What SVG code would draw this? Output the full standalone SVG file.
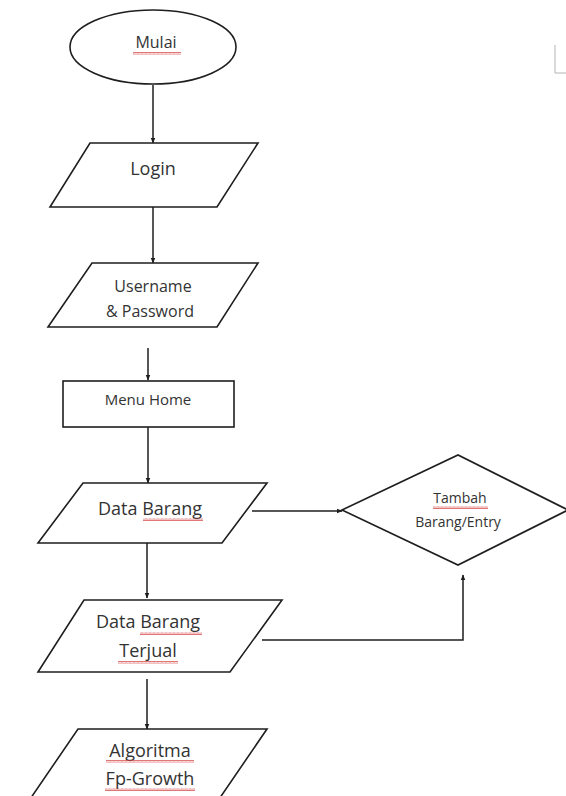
<svg xmlns="http://www.w3.org/2000/svg" width="566" height="796" viewBox="0 0 566 796">
<defs>
<style>
.shape{fill:#fff;stroke:#1e1e1e;stroke-width:1.6}
.conn{fill:none;stroke:#1e1e1e;stroke-width:1.5}
.t{font-family:"Open Sans","Liberation Sans",sans-serif;fill:#333;text-anchor:middle}
.sq{fill:url(#squig)}
</style>
<marker id="arr" viewBox="0 0 10 10" refX="9" refY="5" markerWidth="6" markerHeight="6" orient="auto" markerUnits="userSpaceOnUse">
<path d="M0,1 L10,5 L0,9 z" fill="#1e1e1e"/>
</marker>
<pattern id="squig" x="0" y="0" width="4" height="3" patternUnits="userSpaceOnUse">
<path d="M0,2.5 L1,0.5 L2,2.5 L3,0.5 L4,2.5" fill="none" stroke="#d23c3c" stroke-width="0.7"/>
</pattern>
</defs>
<rect width="566" height="796" fill="#fff"/>
<polyline points="555,45 555,73 566,73" fill="none" stroke="#b4b4b4" stroke-width="1"/>
<g id="connectors">
<line class="conn" x1="153" y1="85" x2="153" y2="143" marker-end="url(#arr)"/>
<line class="conn" x1="153" y1="207" x2="153" y2="263" marker-end="url(#arr)"/>
<line class="conn" x1="148" y1="348" x2="148" y2="380" marker-end="url(#arr)"/>
<line class="conn" x1="148" y1="427" x2="148" y2="483" marker-end="url(#arr)"/>
<line class="conn" x1="252" y1="511" x2="342" y2="511" marker-end="url(#arr)"/>
<line class="conn" x1="147" y1="543" x2="147" y2="598" marker-end="url(#arr)"/>
<polyline class="conn" points="262,640 463,640 463,575" marker-end="url(#arr)"/>
<line class="conn" x1="147" y1="679" x2="147" y2="729" marker-end="url(#arr)"/>
</g>
<g id="mulai">
<ellipse class="shape" cx="153" cy="47" rx="83" ry="37"/>
<text class="t" x="156" y="48" font-size="16">Mulai</text>
<rect class="sq" x="133" y="52" width="48" height="3"/>
</g>
<g id="login">
<polygon class="shape" points="90,143 258,143 217,207 50,207"/>
<text class="t" x="153" y="175" font-size="18">Login</text>
</g>
<g id="username">
<polygon class="shape" points="92,263 258,263 217,327 48,327"/>
<text class="t" x="153" y="292" font-size="16">Username</text>
<text class="t" x="150" y="317" font-size="16">&amp; Password</text>
</g>
<g id="menu-home">
<rect class="shape" x="63" y="381" width="171" height="46"/>
<text class="t" x="148" y="405" font-size="15">Menu Home</text>
</g>
<g id="data-barang">
<polygon class="shape" points="83,483 267,483 222,543 38,543"/>
<text class="t" x="150" y="515" font-size="18">Data Barang</text>
<rect class="sq" x="143" y="518" width="60" height="3"/>
</g>
<g id="tambah-barang">
<polygon class="shape" points="342,510 458,455 568,510 458,565"/>
<text class="t" x="460" y="503" font-size="14">Tambah</text>
<rect class="sq" x="433" y="506" width="55" height="3"/>
<text class="t" x="458" y="527" font-size="14">Barang/Entry</text>
</g>
<g id="data-barang-terjual">
<polygon class="shape" points="84,600 282,600 230,672 38,672"/>
<text class="t" x="148" y="628" font-size="18">Data Barang</text>
<rect class="sq" x="140" y="632" width="62" height="3"/>
<text class="t" x="148" y="657" font-size="18">Terjual</text>
<rect class="sq" x="118" y="661" width="60" height="3"/>
</g>
<g id="algoritma">
<polygon class="shape" points="78,729 267,729 213,808 24,808"/>
<text class="t" x="150" y="757" font-size="18">Algoritma</text>
<rect class="sq" x="106" y="760" width="88" height="3"/>
<text class="t" x="150" y="785" font-size="18">Fp-Growth</text>
<rect class="sq" x="105" y="788" width="90" height="3"/>
</g>
</svg>
